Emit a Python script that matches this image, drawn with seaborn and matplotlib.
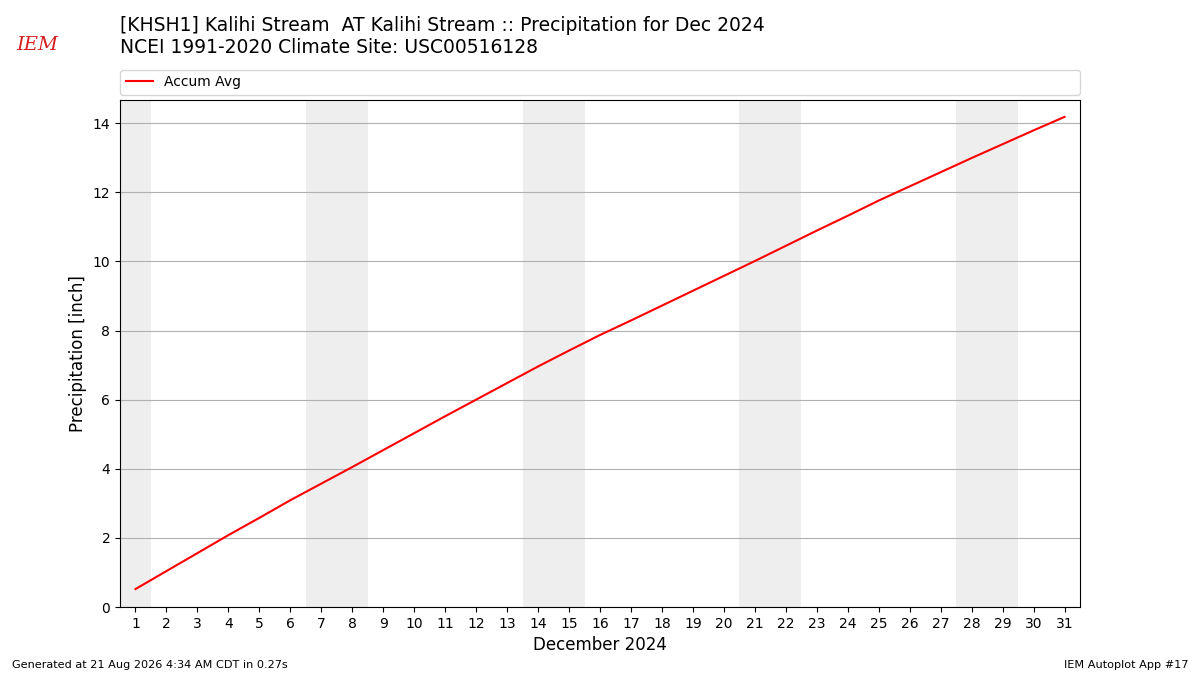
import numpy as np
import pandas as pd
import seaborn as sns
import matplotlib.pyplot as plt

# day of month, December 2024
days = list(range(1, 32))

# accumulated average precipitation (NCEI 1991-2020 normals), inch
accum_avg = [0.52, 1.04, 1.56, 2.08, 2.58, 3.09, 3.57, 4.05, 4.54, 5.03,
             5.52, 6.00, 6.48, 6.96, 7.42, 7.87, 8.29, 8.72, 9.15, 9.58,
             10.01, 10.45, 10.89, 11.32, 11.76, 12.17, 12.58, 12.99, 13.39, 13.79,
             14.18]

# weekend days (Sat / Sun) to shade
weekends = [1, 7, 8, 14, 15, 21, 22, 28, 29]

title = "[KHSH1] Kalihi Stream  AT Kalihi Stream :: Precipitation for Dec 2024\nNCEI 1991-2020 Climate Site: USC00516128"

df = pd.DataFrame({"day": days, "accum": accum_avg})

fig = plt.figure(figsize=(12, 6.75), dpi=100)
ax = fig.add_axes([0.1, 0.1007, 0.8, 0.7512])

for d in weekends:
    ax.axvspan(d - 0.5, d + 0.5, color="#eeeeee", lw=0, zorder=0)

sns.lineplot(data=df, x="day", y="accum", color="red", lw=1.5, label="Accum Avg", ax=ax)

ax.set_xlim(0.5, 31.5)
ax.set_ylim(0, 14.67)
ax.set_xticks(days)
ax.set_yticks(np.arange(0, 15, 2))
ax.tick_params(labelsize=10)
ax.grid(True, axis="y", color="#b0b0b0", lw=0.8)
ax.set_axisbelow(True)
ax.set_xlabel("December 2024", fontsize=12)
ax.set_ylabel("Precipitation [inch]", fontsize=12)

ax.legend(loc="lower left", bbox_to_anchor=(0, 1.01, 1, 0.05), mode="expand",
          ncol=1, fontsize=10, borderaxespad=0, frameon=True)

fig.text(0.1, 0.977, title, fontsize=13.5, ha="left", va="top", linespacing=1.25)

# logo stand-in
fig.text(0.031, 0.933, "IEM", fontsize=14, color="#d42020", family="serif",
         style="italic", ha="center", va="center")

fig.text(0.01, 0.015, "Generated at 21 Aug 2026 4:34 AM CDT in 0.27s", fontsize=8.1,
         ha="left", va="center")
fig.text(0.99, 0.015, "IEM Autoplot App #17", fontsize=8.1, ha="right", va="center")

fig.savefig("out.png", dpi=100)
